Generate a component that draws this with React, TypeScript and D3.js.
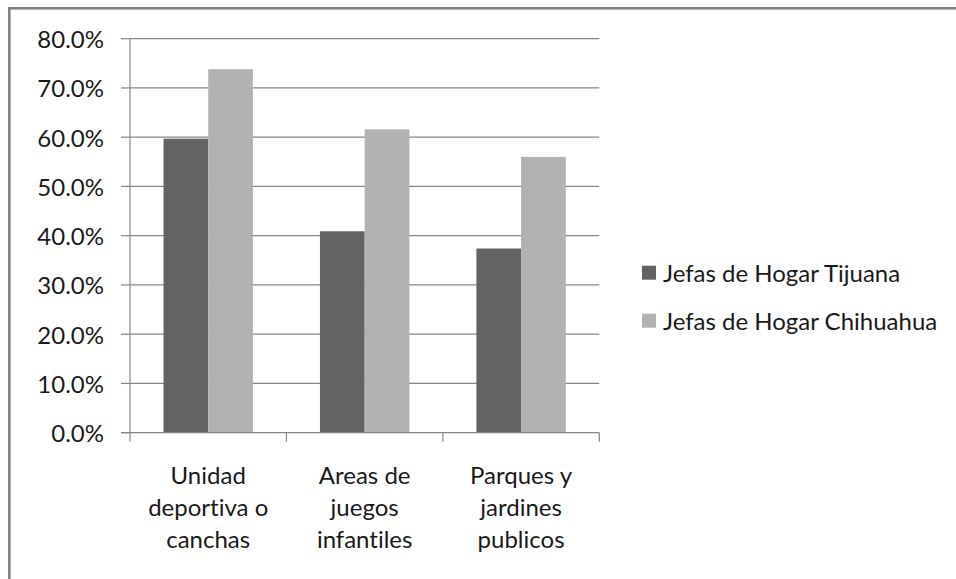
import React from "react";
import * as d3 from "d3";

const categories: string[][] = [
  ["Unidad", "deportiva o", "canchas"],
  ["Areas de", "juegos", "infantiles"],
  ["Parques y", "jardines", "publicos"],
];
const seriesNames = ["Jefas de Hogar Tijuana", "Jefas de Hogar Chihuahua"];
const tijuana = [0.597, 0.409, 0.374];
const chihuahua = [0.738, 0.616, 0.56];
const yTicks = [0, 0.1, 0.2, 0.3, 0.4, 0.5, 0.6, 0.7, 0.8];
const colors = ["#636363", "#b2b2b2"];

const W = 956;
const H = 579;
const FONT = "Lato, 'Open Sans', sans-serif";
const FS = 24;
const textStyle: React.CSSProperties = { fontVariantLigatures: "none" };

export default function App() {
  const left = 130;
  const right = 599.3;
  const top = 38.7;
  const bottom = 432.7;
  const y = d3.scaleLinear().domain([0, 0.8]).range([bottom, top]);
  const x0 = d3
    .scaleBand<number>()
    .domain(categories.map((_, i) => i))
    .range([left, right])
    .paddingInner(0)
    .paddingOuter(0);
  const bw = x0.bandwidth();
  const x1 = d3
    .scaleBand<number>()
    .domain([0, 1])
    .range([(bw * 0.75) / 3.5, bw - (bw * 0.75) / 3.5])
    .padding(0);
  const series = [tijuana, chihuahua];
  const fmt = d3.format(".1%");
  const grid = "#868686";

  return (
    <div style={{ position: "absolute", left: 0, top: 0 }}>
      <svg width={W} height={H} style={{ display: "block", background: "#fff" }}>
        <rect x={9.3} y={8.3} width={W + 20} height={H + 20} fill="#fff" stroke="#808080" strokeWidth={2.6} />
        {yTicks.map((t) => (
          <g key={t}>
            {t > 0 && (
              <line x1={left} x2={right} y1={y(t)} y2={y(t)} stroke={grid} strokeWidth={1.2} />
            )}
            <line x1={left - 9} x2={left} y1={y(t)} y2={y(t)} stroke={grid} strokeWidth={1.2} />
            <text
              x={104}
              y={y(t)}
              textAnchor="end"
              dominantBaseline="central"
              fontFamily={FONT}
              fontSize={FS}
              fill="#1a1a1a"
              style={textStyle}
            >
              {fmt(t)}
            </text>
          </g>
        ))}
        {series.map((vals, si) =>
          vals.map((v, ci) => (
            <rect
              key={`${si}-${ci}`}
              x={(x0(ci) as number) + (x1(si) as number)}
              y={y(v)}
              width={x1.bandwidth()}
              height={bottom - y(v)}
              fill={colors[si]}
            />
          ))
        )}
        <line x1={left} x2={left} y1={top} y2={bottom + 9} stroke={grid} strokeWidth={1.2} />
        <line x1={left - 9} x2={right} y1={bottom} y2={bottom} stroke={grid} strokeWidth={1.2} />
        {[...categories.map((_, i) => x0(i) as number), right].map((xx, i) =>
          i === 0 ? null : (
            <line key={i} x1={xx} x2={xx} y1={bottom} y2={bottom + 9} stroke={grid} strokeWidth={1.2} />
          )
        )}
        {categories.map((lines, ci) => (
          <text
            key={ci}
            textAnchor="middle"
            fontFamily={FONT}
            fontSize={FS}
            fill="#1a1a1a"
            style={textStyle}
          >
            {lines.map((ln, li) => (
              <tspan key={li} x={(x0(ci) as number) + bw / 2} y={484 + li * 32}>
                {ln}
              </tspan>
            ))}
          </text>
        ))}
        {seriesNames.map((name, si) => (
          <g key={name} transform={`translate(642, ${272.7 + si * 48})`}>
            <rect x={0} y={-7} width={14} height={14} fill={colors[si]} />
            <text
              x={21}
              y={0}
              dominantBaseline="central"
              fontFamily={FONT}
              fontSize={FS}
              fill="#1a1a1a"
              style={textStyle}
            >
              {name}
            </text>
          </g>
        ))}
      </svg>
    </div>
  );
}
